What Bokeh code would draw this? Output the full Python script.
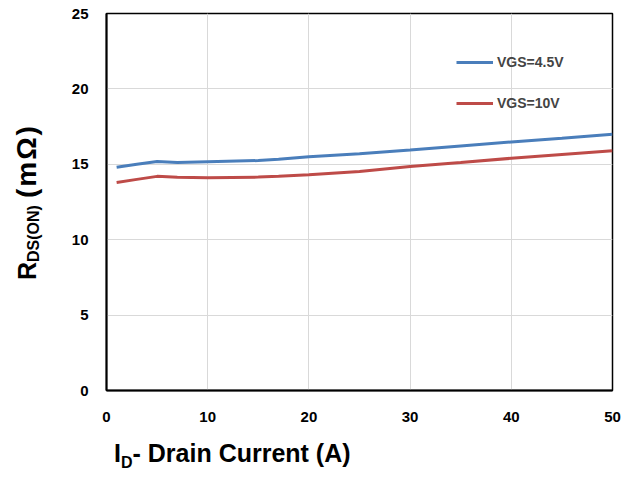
from bokeh.plotting import figure
from bokeh.layouts import column, row
from bokeh.models import Range1d, Legend, LegendItem, FixedTicker, Div
from bokeh.embed import file_html
from bokeh.resources import INLINE

# Data
drain_current = [1, 3, 5, 7, 10, 15, 17, 20, 25, 30, 35, 40, 45, 50]
rds_vgs_4v5 = [14.8, 15.0, 15.18, 15.12, 15.17, 15.25, 15.33, 15.5, 15.7, 15.95, 16.22, 16.48, 16.73, 17.0]
rds_vgs_10v = [13.8, 14.0, 14.2, 14.14, 14.1, 14.15, 14.2, 14.3, 14.52, 14.85, 15.12, 15.4, 15.65, 15.9]
x_ticks = [0, 10, 20, 30, 40, 50]
y_ticks = [0, 5, 10, 15, 20, 25]
series_names = ["VGS=4.5V", "VGS=10V"]
series_colors = ["#4a7ebb", "#be4b48"]

FONT = "Liberation Sans"
YW = 50          # width of the y-label strip
PW, PH = 577, 430

p = figure(width=PW, height=PH, output_backend="svg", toolbar_location=None,
           x_range=Range1d(0, 50), y_range=Range1d(0, 25),
           min_border_left=56, min_border_right=15, min_border_top=13,
           min_border_bottom=40)
p.background_fill_color = "white"
p.border_fill_color = "white"
p.outline_line_color = "black"
p.outline_line_width = 1.5

for ax in (p.xaxis[0], p.yaxis[0]):
    ax.axis_line_color = "black"
    ax.axis_line_width = 2
    ax.major_tick_line_color = None
    ax.minor_tick_line_color = None
    ax.major_tick_out = 0
    ax.major_tick_in = 0
    ax.major_label_text_font = FONT
    ax.major_label_text_font_style = "bold"
    ax.major_label_text_font_size = "15px"
    ax.major_label_text_color = "black"

p.xaxis.ticker = FixedTicker(ticks=x_ticks)
p.yaxis.ticker = FixedTicker(ticks=y_ticks)
p.xaxis.major_label_standoff = 21
p.yaxis.major_label_standoff = 18

p.grid.grid_line_color = "#d9d9d9"
p.grid.grid_line_width = 1

r1 = p.line(drain_current, rds_vgs_4v5, line_color=series_colors[0], line_width=3)
r2 = p.line(drain_current, rds_vgs_10v, line_color=series_colors[1], line_width=3)

legend = Legend(items=[LegendItem(label=series_names[0], renderers=[r1]),
                       LegendItem(label=series_names[1], renderers=[r2])],
                location=(350, 277), border_line_color=None,
                background_fill_alpha=0, padding=0, margin=0, spacing=21,
                glyph_width=37, glyph_height=20, label_height=20,
                label_standoff=4, label_text_font=FONT,
                label_text_font_style="bold", label_text_font_size="14px")
p.add_layout(legend, "center")

base = (f"font-family:'{FONT}';font-weight:bold;font-size:25px;line-height:25px;"
        "color:black;white-space:nowrap;width:max-content;")

y_html = (f'<div style="{base}margin-left:14px;margin-top:280px;'
          'transform:rotate(-90deg);transform-origin:0 0;">'
          'R<span style="font-size:16px;position:relative;top:3px;">DS(ON)</span> '
          '<span style="font-size:28px;letter-spacing:2px;">(mΩ)</span></div>')
x_html = (f'<div style="{base}margin-left:114px;margin-top:11px;">'
          'I<span style="font-size:16px;position:relative;top:6px;">D</span>'
          '- Drain Current (A)</div>')

ydiv = Div(text=y_html, width=YW, height=PH, margin=0)
xdiv = Div(text=x_html, width=YW + PW, height=45, margin=0)

layout = column(row(ydiv, p, spacing=0), xdiv, spacing=0)

open("out.html", "w").write(file_html(layout, INLINE))
